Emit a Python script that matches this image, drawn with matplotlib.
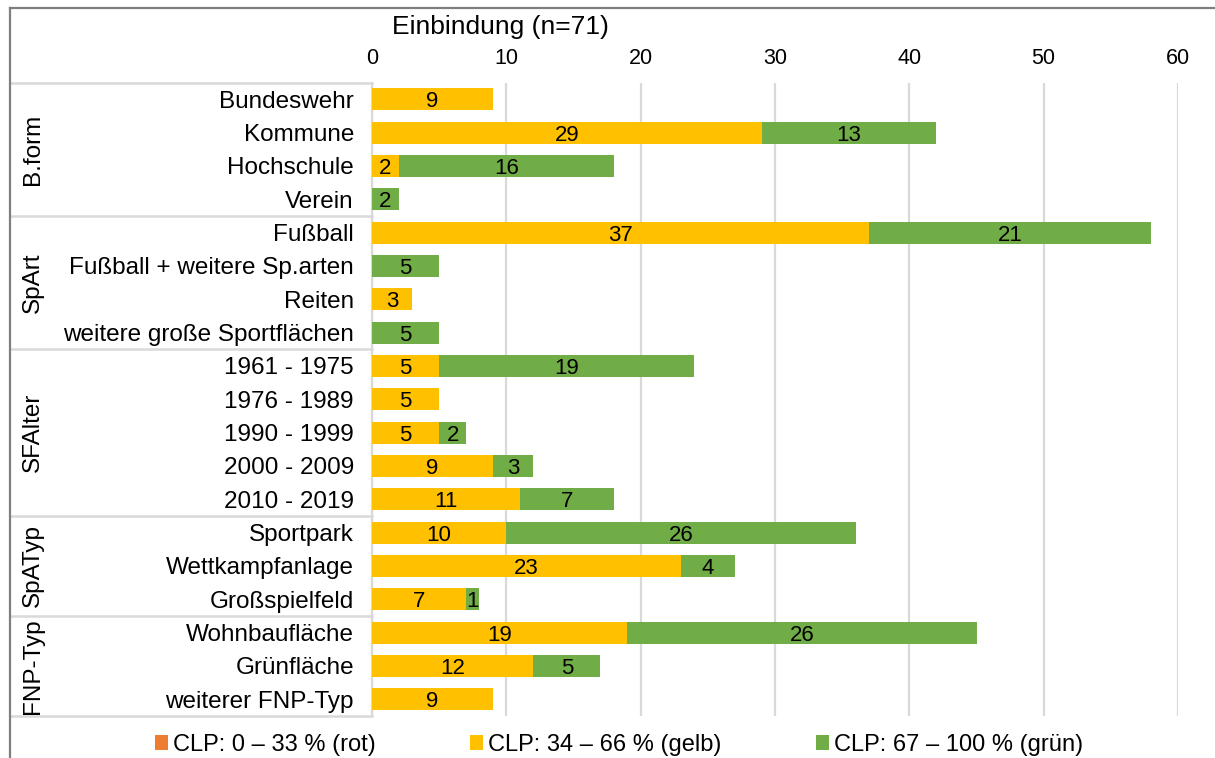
import matplotlib
matplotlib.use("Agg")
import matplotlib.pyplot as plt
from matplotlib.patches import Patch
from matplotlib.lines import Line2D
import numpy as np

plt.rcParams['font.family'] = ['Liberation Sans', 'DejaVu Sans']

# ── Daten ────────────────────────────────────────────────────────────────
categories = [
    "Bundeswehr", "Kommune", "Hochschule", "Verein",
    "Fußball", "Fußball + weitere Sp.arten", "Reiten", "weitere große Sportflächen",
    "1961 - 1975", "1976 - 1989", "1990 - 1999", "2000 - 2009", "2010 - 2019",
    "Sportpark", "Wettkampfanlage", "Großspielfeld",
    "Wohnbaufläche", "Grünfläche", "weiterer FNP-Typ",
]
rot  = [0, 0, 0, 0, 0, 0, 0, 0, 0, 0, 0, 0, 0, 0, 0, 0, 0, 0, 0]
gelb = [9, 29, 2, 0, 37, 0, 3, 0, 5, 5, 5, 9, 11, 10, 23, 7, 19, 12, 9]
gruen = [0, 13, 16, 2, 21, 5, 0, 5, 19, 0, 2, 3, 7, 26, 4, 1, 26, 5, 0]

groups = ["B.form", "SpArt", "SFAlter", "SpATyp", "FNP-Typ"]
group_sizes = [4, 4, 5, 3, 3]

series_labels = ["CLP: 0 – 33 % (rot)", "CLP: 34 – 66 % (gelb)", "CLP: 67 – 100 % (grün)"]
colors = ["#ED7D31", "#FFC000", "#70AD47"]

# ── Plot ─────────────────────────────────────────────────────────────────
fig = plt.figure(figsize=(12.15, 7.58), dpi=100)
ax = fig.add_axes([372 / 1215, 1 - 716 / 758, 806 / 1215, (716 - 82.5) / 758])

y = np.arange(len(categories))
left = np.zeros(len(categories))
for vals, col in zip([rot, gelb, gruen], colors):
    vals = np.array(vals, dtype=float)
    ax.barh(y, vals, left=left, height=0.66, color=col, zorder=3)
    for yi, (l, v) in enumerate(zip(left, vals)):
        if v > 0:
            ax.text(l + v / 2, yi, f"{int(v)}", ha='center', va='center_baseline',
                    fontsize=16, color='black', zorder=4)
    left += vals

ax.set_xlim(0, 60)
ax.set_ylim(len(categories) - 0.5, -0.5)
ax.set_xticks(range(0, 61, 10))
ax.xaxis.tick_top()
ax.tick_params(axis='x', length=0, labelsize=15.5, pad=10, colors='#000000')
ax.set_yticks(y)
ax.set_yticklabels(categories, fontsize=17.5)
ax.tick_params(axis='y', length=0, pad=13)
ax.grid(axis='x', color='#D9D9D9', linewidth=1.6, zorder=0)
for s in ['top', 'right', 'bottom']:
    ax.spines[s].set_visible(False)
ax.spines['left'].set_color('#D9D9D9')
ax.spines['left'].set_linewidth(1.6)

# Gruppenbeschriftung links (Tabellenstil)
trans = ax.get_yaxis_transform()
x_left = (10 - 372) / 806
start = -0.5
ax.add_line(Line2D([x_left, 0], [start, start], transform=trans, color='#D9D9D9',
                   linewidth=1.8, clip_on=False))
for name, n in zip(groups, group_sizes):
    end = start + n
    ax.add_line(Line2D([x_left, 0], [end, end], transform=trans, color='#D9D9D9',
                       linewidth=1.8, clip_on=False))
    ax.text((33 - 372) / 806, (start + end) / 2, name, transform=trans, rotation=90,
            ha='center', va='center', fontsize=17.5)
    start = end

# Titel
fig.text(500 / 1215, 1 - 27 / 758, "Einbindung (n=71)", ha='center', va='center',
         fontsize=19)

# Rahmen
fig.add_artist(Line2D([10 / 1215, 10 / 1215], [0, 1 - 8 / 758], transform=fig.transFigure,
                      color='#7F7F7F', linewidth=1.6))
fig.add_artist(Line2D([10 / 1215, 1], [1 - 8 / 758, 1 - 8 / 758], transform=fig.transFigure,
                      color='#7F7F7F', linewidth=1.6))

# Legende
handles = [Patch(facecolor=c, edgecolor='none') for c in colors]
fig.legend(handles, series_labels, loc='center', bbox_to_anchor=(619 / 1215, 1 - 745 / 758),
           ncol=3, frameon=False, fontsize=17, handlelength=0.55, handleheight=0.6,
           handletextpad=0.2, columnspacing=4.0, borderaxespad=0)

fig.savefig("out.png", dpi=100)
